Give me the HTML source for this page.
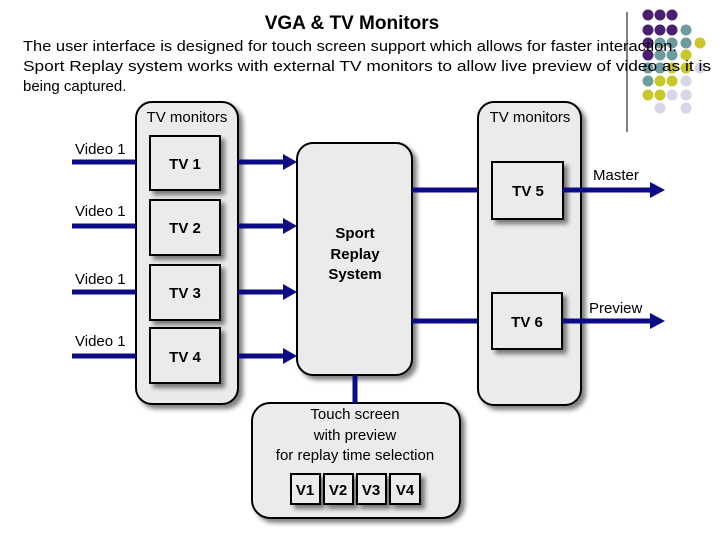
<!DOCTYPE html>
<html><head><meta charset="utf-8"><style>
body{margin:0;background:#fff;}
svg text{font-family:"Liberation Sans",sans-serif;}
</style></head><body>
<svg width="720" height="540" viewBox="0 0 720 540" xmlns="http://www.w3.org/2000/svg">
<defs>
<filter id="sh" x="-20%" y="-20%" width="150%" height="150%"><feGaussianBlur in="SourceAlpha" stdDeviation="2.5"/><feOffset dx="4" dy="4"/><feComponentTransfer><feFuncA type="linear" slope="0.5"/></feComponentTransfer><feMerge><feMergeNode/><feMergeNode in="SourceGraphic"/></feMerge></filter>
</defs>
<line x1="627" y1="12" x2="627" y2="132" stroke="#000" stroke-width="1"/>
<g>
<circle cx="648" cy="15" r="5.5" fill="#4b1f6f"/><circle cx="660" cy="15" r="5.5" fill="#4b1f6f"/><circle cx="672" cy="15" r="5.5" fill="#4b1f6f"/>
<circle cx="648" cy="30" r="5.5" fill="#4b1f6f"/><circle cx="660" cy="30" r="5.5" fill="#4b1f6f"/><circle cx="672" cy="30" r="5.5" fill="#4b1f6f"/><circle cx="686" cy="30" r="5.5" fill="#6d9c9e"/>
<circle cx="648" cy="43" r="5.5" fill="#4b1f6f"/><circle cx="660" cy="43" r="5.5" fill="#6d9c9e"/><circle cx="672" cy="43" r="5.5" fill="#6d9c9e"/><circle cx="686" cy="43" r="5.5" fill="#6d9c9e"/><circle cx="700" cy="43" r="5.5" fill="#c9c62a"/>
<circle cx="648" cy="55" r="5.5" fill="#4b1f6f"/><circle cx="660" cy="55" r="5.5" fill="#6d9c9e"/><circle cx="672" cy="55" r="5.5" fill="#6d9c9e"/><circle cx="686" cy="55" r="5.5" fill="#c9c62a"/>
<circle cx="648" cy="68" r="5.5" fill="#6d9c9e"/><circle cx="660" cy="68" r="5.5" fill="#6d9c9e"/><circle cx="672" cy="68" r="5.5" fill="#c9c62a"/><circle cx="686" cy="68" r="5.5" fill="#c9c62a"/><circle cx="700" cy="68" r="5.5" fill="#d6d6e6"/>
<circle cx="648" cy="81" r="5.5" fill="#6d9c9e"/><circle cx="660" cy="81" r="5.5" fill="#c9c62a"/><circle cx="672" cy="81" r="5.5" fill="#c9c62a"/><circle cx="686" cy="81" r="5.5" fill="#d6d6e6"/>
<circle cx="648" cy="95" r="5.5" fill="#c9c62a"/><circle cx="660" cy="95" r="5.5" fill="#c9c62a"/><circle cx="672" cy="95" r="5.5" fill="#d6d6e6"/><circle cx="686" cy="95" r="5.5" fill="#d6d6e6"/>
<circle cx="660" cy="108" r="5.5" fill="#d6d6e6"/><circle cx="686" cy="108" r="5.5" fill="#d6d6e6"/>
</g>
<text x="352" y="29" font-size="19" font-weight="bold" text-anchor="middle">VGA &amp; TV Monitors</text>
<text x="23" y="51" font-size="15" textLength="654" lengthAdjust="spacingAndGlyphs">The user interface is designed for touch screen support which allows for faster interaction.</text>
<text x="23" y="71" font-size="15" textLength="688" lengthAdjust="spacingAndGlyphs">Sport Replay system works with external TV monitors to allow live preview of video as it is</text>
<text x="23" y="91" font-size="15">being captured.</text>

<g stroke="#000" stroke-width="2" fill="#ebebeb">
<rect x="136" y="102" width="102" height="302" rx="16" filter="url(#sh)"/>
<rect x="478" y="102" width="103" height="303" rx="16" filter="url(#sh)"/>
<rect x="297" y="143" width="115" height="232" rx="16" filter="url(#sh)"/>
<rect x="252" y="403" width="208" height="115" rx="18" filter="url(#sh)"/>
<rect x="150" y="136" width="70" height="54" filter="url(#sh)"/>
<rect x="150" y="200" width="70" height="55" filter="url(#sh)"/>
<rect x="150" y="265" width="70" height="55" filter="url(#sh)"/>
<rect x="150" y="328" width="70" height="55" filter="url(#sh)"/>
<rect x="492" y="162" width="71" height="57" filter="url(#sh)"/>
<rect x="492" y="293" width="70" height="56" filter="url(#sh)"/>
<rect x="291" y="474" width="29" height="30" filter="url(#sh)"/>
<rect x="324" y="474" width="29" height="30" filter="url(#sh)"/>
<rect x="357" y="474" width="29" height="30" filter="url(#sh)"/>
<rect x="390" y="474" width="30" height="30" filter="url(#sh)"/>
</g>
<g stroke="#0b0b85" stroke-width="5" fill="none">
<line x1="72" y1="162" x2="136" y2="162"/><line x1="72" y1="226" x2="136" y2="226"/>
<line x1="72" y1="292" x2="136" y2="292"/><line x1="72" y1="356" x2="136" y2="356"/>
<line x1="238" y1="162" x2="285" y2="162"/><line x1="238" y1="226" x2="285" y2="226"/>
<line x1="238" y1="292" x2="285" y2="292"/><line x1="238" y1="356" x2="285" y2="356"/>
<line x1="412" y1="190" x2="478" y2="190"/><line x1="412" y1="321" x2="478" y2="321"/>
<line x1="563" y1="190" x2="652" y2="190"/><line x1="562" y1="321" x2="652" y2="321"/>
<line x1="355" y1="375" x2="355" y2="403"/>
</g>
<g fill="#0b0b85">
<polygon points="283,154 297,162 283,170"/><polygon points="283,218 297,226 283,234"/>
<polygon points="283,284 297,292 283,300"/><polygon points="283,348 297,356 283,364"/>
<polygon points="650,182 665,190 650,198"/><polygon points="650,313 665,321 650,329"/>
</g>
<g font-size="15" fill="#000">
<text x="75" y="154">Video 1</text><text x="75" y="216">Video 1</text>
<text x="75" y="284">Video 1</text><text x="75" y="346">Video 1</text>
<text x="187" y="122" text-anchor="middle">TV monitors</text>
<text x="530" y="122" text-anchor="middle">TV monitors</text>
<text x="593" y="180">Master</text><text x="589" y="313">Preview</text>
<text x="355" y="419" text-anchor="middle">Touch screen</text>
<text x="355" y="440" text-anchor="middle">with preview</text>
<text x="355" y="460" text-anchor="middle">for replay time selection</text>
</g>
<g font-size="15" font-weight="bold" text-anchor="middle">
<text x="185" y="169">TV 1</text><text x="185" y="233">TV 2</text>
<text x="185" y="298">TV 3</text><text x="185" y="362">TV 4</text>
<text x="528" y="196">TV 5</text><text x="527" y="327">TV 6</text>
<text x="355" y="238">Sport</text><text x="355" y="259">Replay</text><text x="355" y="279">System</text>
<text x="305" y="495">V1</text><text x="338" y="495">V2</text><text x="371" y="495">V3</text><text x="405" y="495">V4</text>
</g>
</svg>
</body></html>
